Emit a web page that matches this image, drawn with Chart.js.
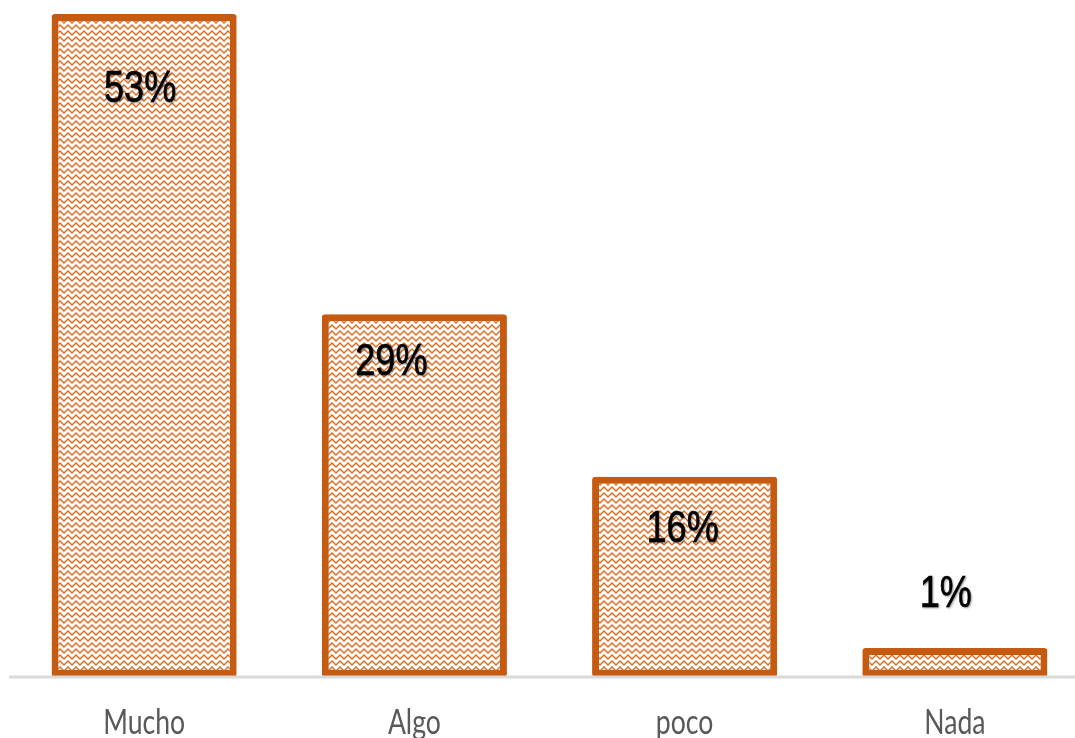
<!DOCTYPE html>
<html>
<head>
<meta charset="utf-8">
<script src="https://cdn.jsdelivr.net/npm/chart.js@4"></script>
<style>
  html, body { margin: 0; padding: 0; background: #fff; overflow: hidden; }
  #wrap { width: 1090px; height: 738px; }
</style>
</head>
<body>
<div id="wrap"><canvas id="barChart" width="1090" height="738"></canvas></div>
<script>
// data
var categories = ['Mucho', 'Algo', 'poco', 'Nada'];
var percentages = [53, 29, 16, 1];
var valueLabels = ['53%', '29%', '16%', '1%'];

// orange zig-zag weave fill, like the Excel pattern fill
function makePattern() {
  var p = document.createElement('canvas');
  p.width = 8; p.height = 6;
  var c = p.getContext('2d');
  c.fillStyle = '#ffffff';
  c.fillRect(0, 0, 8, 6);
  for (var x = 0; x < 8; x++) {
    var y0 = Math.floor(Math.abs(x - 3.5));
    for (var k = 0; k < 3; k++) {
      c.fillStyle = (k === 1) ? '#d8702f' : '#eeb084';
      c.fillRect(x, (y0 + k) % 6, 1, 1);
    }
  }
  return document.getElementById('barChart').getContext('2d').createPattern(p, 'repeat');
}

// percent labels, placed the way the original chart has them
var labelShift = {
  dx: [-4, -23, -2, -9],
  dy: [76, 49, 53, -53]
};
var valueLabelPlugin = {
  id: 'valueLabels',
  afterDatasetsDraw: function(chart) {
    var ctx = chart.ctx;
    var meta = chart.getDatasetMeta(0);
    meta.data.forEach(function(bar, i) {
      ctx.save();
      ctx.translate(bar.x + labelShift.dx[i], bar.y + labelShift.dy[i]);
      ctx.scale(0.82, 1);
      ctx.font = '44px "Liberation Sans", Arial, sans-serif';
      ctx.textAlign = 'center';
      ctx.textBaseline = 'middle';
      ctx.fillStyle = '#000000';
      ctx.strokeStyle = '#000000';
      ctx.lineWidth = 0.6;
      ctx.shadowColor = 'rgba(0,0,0,0.35)';
      ctx.shadowBlur = 2;
      ctx.shadowOffsetX = 1;
      ctx.shadowOffsetY = 1;
      ctx.fillText(valueLabels[i], 0, 0);
      ctx.strokeText(valueLabels[i], 0, 0);
      ctx.restore();
    });
  }
};

// category names under the axis, narrow like Calibri
var categoryLabelPlugin = {
  id: 'categoryLabels',
  afterDraw: function(chart) {
    var ctx = chart.ctx;
    var xs = chart.scales.x;
    categories.forEach(function(name, i) {
      ctx.save();
      ctx.translate(xs.getPixelForTick(i), 734);
      ctx.scale(0.76, 1);
      ctx.font = '35px Lato, "Open Sans", sans-serif';
      ctx.textAlign = 'center';
      ctx.textBaseline = 'alphabetic';
      ctx.fillStyle = '#595959';
      ctx.fillText(name, 0, 0);
      ctx.restore();
    });
  }
};

// axis line drawn over the bar bottoms
var axisLinePlugin = {
  id: 'axisLine',
  afterDatasetsDraw: function(chart) {
    var ctx = chart.ctx;
    var a = chart.chartArea;
    ctx.save();
    ctx.strokeStyle = '#d9d9d9';
    ctx.lineWidth = 3;
    ctx.beginPath();
    ctx.moveTo(a.left, a.bottom);
    ctx.lineTo(a.right, a.bottom);
    ctx.stroke();
    ctx.restore();
  }
};

var chartConfig = {
  type: 'bar',
  data: {
    labels: categories,
    datasets: [{
      data: percentages,
      backgroundColor: makePattern(),
      borderColor: '#c55a11',
      borderWidth: 7,
      borderSkipped: false,
      borderRadius: 3,
      minBarLength: 29,
      barPercentage: 0.685,
      categoryPercentage: 1.0
    }]
  },
  options: {
    responsive: false,
    animation: false,
    layout: { padding: { left: 9, right: 0, top: 14, bottom: 0 } },
    plugins: {
      legend: { display: false },
      tooltip: { enabled: false }
    },
    scales: {
      y: {
        display: false,
        min: 0,
        max: 53
      },
      x: {
        grid: { display: false, drawTicks: false },
        border: { display: false },
        ticks: { display: false },
        afterFit: function(scale) { scale.height = 61; }
      }
    }
  },
  plugins: [valueLabelPlugin, axisLinePlugin, categoryLabelPlugin]
};

var barChart = new Chart(document.getElementById('barChart').getContext('2d'), chartConfig);
</script>
</body>
</html>
